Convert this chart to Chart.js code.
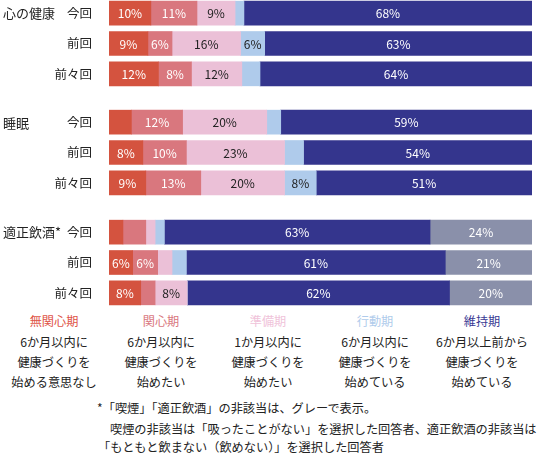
<!DOCTYPE html>
<html><head><meta charset="utf-8">
<script src="https://cdn.jsdelivr.net/npm/chart.js@4"></script>
<style>
html,body{margin:0;padding:0;background:#fff;}
body{width:544px;height:453px;position:relative;overflow:hidden;font-family:"Noto Sans CJK JP","Noto Sans",sans-serif;color:#222;}
canvas{position:absolute;left:0;display:block;}
.glabel{position:absolute;left:3px;font-size:13px;line-height:13px;white-space:nowrap;}
.leg{position:absolute;top:313px;width:110px;text-align:center;font-size:12.2px;line-height:20px;white-space:nowrap;}
.leg .t{line-height:17px;margin-bottom:2px;}
.note{position:absolute;font-size:12.2px;line-height:12px;white-space:nowrap;}
</style></head>
<body>
<canvas id="c1" width="544" height="91" style="top:-2px;width:544px;height:91px"></canvas>
<canvas id="c2" width="544" height="91" style="top:107px;width:544px;height:91px"></canvas>
<canvas id="c3" width="544" height="91" style="top:217px;width:544px;height:91px"></canvas>
<div class="glabel" style="top:6px">心の健康</div>
<div class="glabel" style="top:116px">睡眠</div>
<div class="glabel" style="top:225px">適正飲酒*</div>
<div id="legend"></div>
<div class="note" style="left:97px;top:402px">*「喫煙」「適正飲酒」の非該当は、グレーで表示。</div>
<div class="note" style="left:110px;top:423px">喫煙の非該当は「吸ったことがない」を選択した回答者、適正飲酒の非該当は</div>
<div class="note" style="left:98px;top:441px">「もともと飲まない（飲めない）」を選択した回答者</div>
<script>
const rows = ['今回','前回','前々回'];
const groups = ['心の健康','睡眠','適正飲酒*'];
const stages = ['無関心期','関心期','準備期','行動期','維持期','非該当'];
const stageNotes = [
  ['6か月以内に','健康づくりを','始める意思なし'],
  ['6か月以内に','健康づくりを','始めたい'],
  ['1か月以内に','健康づくりを','始めたい'],
  ['6か月以内に','健康づくりを','始めている'],
  ['6か月以上前から','健康づくりを','始めている']
];
// values per stage, each array = [今回, 前回, 前々回]
const kokoroValues = [
  [9.9, 9.2, 11.7],
  [10.9, 5.7, 7.8],
  [9.0, 16.2, 11.9],
  [2.1, 5.7, 4.3],
  [68.1, 63.2, 64.3]
];
const suiminValues = [
  [5.3, 8.0, 8.7],
  [12.1, 10.3, 13.0],
  [19.9, 23.2, 19.8],
  [3.3, 4.5, 7.5],
  [59.4, 54.0, 51.0]
];
const insyuValues = [
  [3.3, 5.6, 7.5],
  [5.4, 5.9, 3.4],
  [2.2, 3.4, 7.6],
  [2.2, 3.4, 0],
  [62.8, 61.2, 62.0],
  [24.1, 20.5, 19.5]
];
const colors = ['#D4533F','#D9777E','#EBC0D7','#AFCBEB','#34358D','#8A90AA'];
const legendColors = ['#DE5346','#D9777E','#F0C3DA','#AFCBEB','#3A3A94'];
const labelColors = ['#fff','#fff','#222','#222','#fff','#fff'];

const labelPlugin = {
  id:'segLabels',
  afterDatasetsDraw(chart){
    const ctx = chart.ctx;
    ctx.save();
    ctx.font = '12px "Noto Sans CJK JP", "Noto Sans", sans-serif';
    ctx.textAlign = 'center';
    ctx.textBaseline = 'middle';
    chart.data.datasets.forEach((ds, di) => {
      const meta = chart.getDatasetMeta(di);
      meta.data.forEach((el, i) => {
        const v = ds.data[i];
        const r = Math.round(v);
        if (r < 6) return;
        const p = el.getProps(['x','y','base'], true);
        ctx.fillStyle = ds.labelColor;
        ctx.fillText(r + '%', (p.x + p.base) / 2, p.y + 0.5);
      });
    });
    ctx.restore();
  }
};

function makeChart(id, values){
  const datasets = values.map((arr, si) => ({
    label: stages[si],
    data: arr,
    backgroundColor: colors[si],
    labelColor: labelColors[si],
    borderWidth: 0,
    barThickness: 24,
    categoryPercentage: 1.0
  }));
  new Chart(document.getElementById(id), {
    type:'bar',
    data:{labels: rows, datasets},
    options:{
      indexAxis:'y',
      responsive:false,
      devicePixelRatio:1,
      animation:false,
      layout:{padding:{left:0,right:12,top:0,bottom:0}},
      plugins:{legend:{display:false},tooltip:{enabled:false}},
      scales:{
        x:{stacked:true,min:0,max:100,display:false},
        y:{stacked:true,
           grid:{display:false},border:{display:false},
           afterFit(scale){ scale.width = 109; scale.paddingTop = 0; scale.paddingBottom = 0; },
           ticks:{color:'#222',padding:9,font:{family:'"Noto Sans CJK JP", "Noto Sans", sans-serif',size:12.5}}
        }
      }
    },
    plugins:[labelPlugin]
  });
}
makeChart('c1', kokoroValues);
makeChart('c2', suiminValues);
makeChart('c3', insyuValues);

const centers = [54, 161, 268, 375, 482];
const legend = document.getElementById('legend');
stageNotes.forEach((lines, i) => {
  const d = document.createElement('div');
  d.className = 'leg';
  d.style.left = (centers[i] - 55) + 'px';
  let html = '<div class="t" style="color:' + legendColors[i] + '">' + stages[i] + '</div>';
  lines.forEach(l => { html += '<div>' + l + '</div>'; });
  d.innerHTML = html;
  legend.appendChild(d);
});
</script>
</body></html>
